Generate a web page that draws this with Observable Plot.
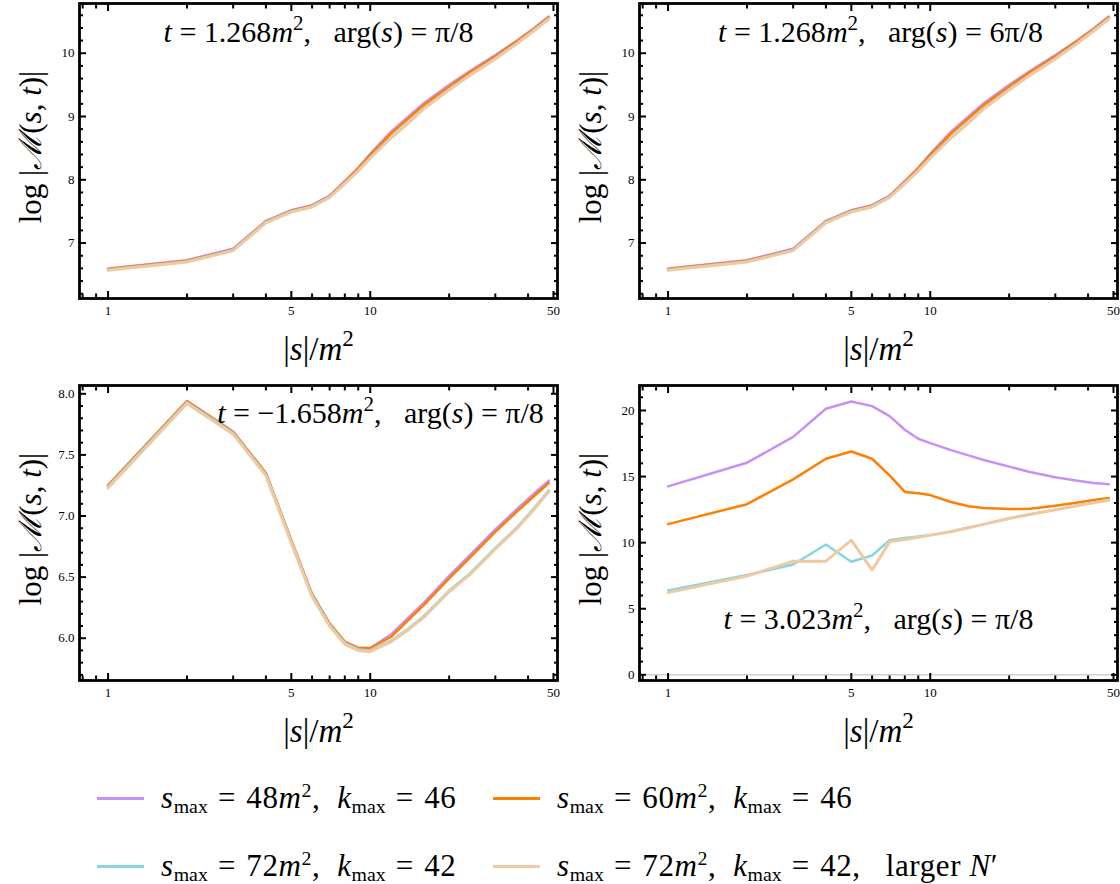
<!DOCTYPE html>
<html>
<head>
<meta charset="utf-8">
<script src="https://cdn.jsdelivr.net/npm/d3@7"></script>
<script src="https://cdn.jsdelivr.net/npm/@observablehq/plot@0.6"></script>
<style>
  body { margin: 0; background: #fff; }
  #chart { position: relative; width: 1120px; height: 884px; font-family: "Liberation Serif", "DejaVu Serif", serif; }
  .row { display: flex; }
  .row svg { display: block; overflow: visible; }
  .item { position: absolute; height: 40px; display: flex; align-items: center; font-size: 31px; letter-spacing: 0.6px; white-space: pre; color: #000; }
  .sw { width: 47px; height: 3px; margin-right: 17px; }
  .item sub { font-size: 0.64em; vertical-align: -0.25em; line-height: 0; letter-spacing: 0; }
  .item sup { font-size: 0.64em; vertical-align: 0.55em; line-height: 0; }
  .item .eq { margin: 0 0.06em; }
</style>
</head>
<body>
<div id="chart">
  <div class="row" id="row1"></div>
  <div class="row" id="row2"></div>
  <div id="legend"></div>
</div>
<script>
// ---------------- data ----------------
const sGrid = [1, 2, 3, 4, 5, 6, 7, 8, 9, 10, 12, 14, 16, 20, 24, 30, 36, 42, 48];

const seriesNames = ["smax48k46", "smax60k46", "smax72k42", "smax72k42N"];
const seriesColors = ["#C690F6", "#FF7F00", "#86D6E1", "#EFC9A2"];
const legendLabels = [
  "<i>s</i><sub>max</sub> <span class='eq'>=</span> 48<i>m</i><sup>2</sup>,  <i>k</i><sub>max</sub> <span class='eq'>=</span> 46",
  "<i>s</i><sub>max</sub> <span class='eq'>=</span> 60<i>m</i><sup>2</sup>,  <i>k</i><sub>max</sub> <span class='eq'>=</span> 46",
  "<i>s</i><sub>max</sub> <span class='eq'>=</span> 72<i>m</i><sup>2</sup>,  <i>k</i><sub>max</sub> <span class='eq'>=</span> 42",
  "<i>s</i><sub>max</sub> <span class='eq'>=</span> 72<i>m</i><sup>2</sup>,  <i>k</i><sub>max</sub> <span class='eq'>=</span> 42,   larger <i>N</i>′"
];

// panel 1: t = 1.268, arg(s) = pi/8
const p1Purple = [6.60, 6.73, 6.91, 7.35, 7.52, 7.60, 7.75, 7.98, 8.19, 8.41, 8.76, 9.00, 9.21, 9.50, 9.72, 9.97, 10.19, 10.39, 10.58];
const p1Orange = [6.59, 6.72, 6.90, 7.34, 7.51, 7.59, 7.74, 7.97, 8.18, 8.39, 8.73, 8.97, 9.18, 9.47, 9.70, 9.95, 10.18, 10.38, 10.57];
const p1Cyan   = [6.58, 6.71, 6.89, 7.33, 7.50, 7.58, 7.73, 7.95, 8.15, 8.35, 8.67, 8.91, 9.13, 9.43, 9.66, 9.92, 10.15, 10.36, 10.55];
const p1Beige  = [6.57, 6.70, 6.88, 7.32, 7.49, 7.57, 7.72, 7.94, 8.14, 8.34, 8.66, 8.90, 9.12, 9.42, 9.65, 9.91, 10.14, 10.35, 10.54];

// panel 2: t = 1.268, arg(s) = 6pi/8
const p2Purple = [6.60, 6.73, 6.91, 7.35, 7.52, 7.60, 7.75, 7.98, 8.19, 8.41, 8.76, 9.00, 9.21, 9.50, 9.72, 9.97, 10.19, 10.39, 10.58];
const p2Orange = [6.59, 6.72, 6.90, 7.34, 7.51, 7.59, 7.74, 7.97, 8.18, 8.39, 8.73, 8.97, 9.18, 9.47, 9.70, 9.95, 10.18, 10.38, 10.57];
const p2Cyan   = [6.58, 6.71, 6.89, 7.33, 7.50, 7.58, 7.73, 7.95, 8.15, 8.35, 8.67, 8.91, 9.13, 9.43, 9.66, 9.92, 10.15, 10.36, 10.55];
const p2Beige  = [6.57, 6.70, 6.88, 7.32, 7.49, 7.57, 7.72, 7.94, 8.14, 8.34, 8.66, 8.90, 9.12, 9.42, 9.65, 9.91, 10.14, 10.35, 10.54];

// panel 3: t = -1.658, arg(s) = pi/8
const p3Purple = [7.25, 7.94, 7.69, 7.35, 6.80, 6.36, 6.12, 5.97, 5.92, 5.92, 6.03, 6.17, 6.29, 6.51, 6.68, 6.89, 7.05, 7.18, 7.29];
const p3Orange = [7.25, 7.94, 7.69, 7.35, 6.80, 6.36, 6.12, 5.97, 5.92, 5.92, 6.01, 6.15, 6.27, 6.49, 6.66, 6.87, 7.03, 7.16, 7.27];
const p3Cyan   = [7.24, 7.93, 7.68, 7.34, 6.79, 6.35, 6.11, 5.96, 5.91, 5.90, 5.98, 6.08, 6.18, 6.39, 6.53, 6.74, 6.90, 7.06, 7.21];
const p3Beige  = [7.23, 7.92, 7.67, 7.33, 6.78, 6.34, 6.10, 5.95, 5.90, 5.89, 5.97, 6.07, 6.17, 6.38, 6.52, 6.73, 6.89, 7.05, 7.20];

// panel 4: t = 3.023, arg(s) = pi/8
const p4Purple = [14.26, 16.05, 18.00, 20.13, 20.68, 20.33, 19.57, 18.54, 17.86, 17.53, 17.00, 16.60, 16.25, 15.75, 15.35, 14.95, 14.70, 14.52, 14.42];
const p4Orange = [11.40, 12.91, 14.79, 16.35, 16.90, 16.35, 15.09, 13.84, 13.73, 13.60, 13.08, 12.75, 12.63, 12.55, 12.56, 12.80, 13.02, 13.22, 13.37];
const p4Cyan   = [6.38, 7.55, 8.35, 9.86, 8.55, 9.03, 10.19, 10.36, 10.47, 10.57, 10.85, 11.15, 11.40, 11.85, 12.15, 12.50, 12.80, 13.03, 13.24];
const p4Beige  = [6.22, 7.47, 8.60, 8.60, 10.19, 7.92, 10.06, 10.24, 10.40, 10.55, 10.83, 11.13, 11.38, 11.83, 12.13, 12.48, 12.78, 13.01, 13.20];

// annotations (markup: _x_ italic, ^x^ superscript)
const annot1 = "_t_ = 1.268_m_^2^,   arg(_s_) = π/8";
const annot2 = "_t_ = 1.268_m_^2^,   arg(_s_) = 6π/8";
const annot3 = "_t_ = −1.658_m_^2^,   arg(_s_) = π/8";
const annot4 = "_t_ = 3.023_m_^2^,   arg(_s_) = π/8";
const xLabel = "|_s_|/_m_^2^";
const yLabel = "log |_ℳ_(_s_, _t_)|";

// ticks
const xMajor = [1, 5, 10, 50];
const xMinor = [0.8, 0.9, 2, 3, 4, 6, 7, 8, 9, 20, 30, 40];
const yMajorTop = [7, 8, 9, 10];
const yMajorBL = [6.0, 6.5, 7.0, 7.5, 8.0];
const yMajorBR = [0, 5, 10, 15, 20];

// ---------------- helpers ----------------
const plain = (m) => m.replace(/[_^]/g, "");
function parseMarkup(m) {
  const parts = [];
  const re = /_([^_]+)_|\^([^^]+)\^|([^_^]+)/g;
  let r;
  while ((r = re.exec(m))) {
    if (r[1]) parts.push([r[1], "i"]);
    else if (r[2]) parts.push([r[2], "^"]);
    else parts.push([r[3], ""]);
  }
  return parts;
}
function richify(svg, markups) {
  const map = new Map(markups.map(m => [plain(m), m]));
  svg.querySelectorAll("text").forEach(el => {
    const key = el.textContent;
    if (!map.has(key)) return;
    const holder = el.closest("[font-size]");
    const fs = parseFloat(holder ? holder.getAttribute("font-size") : 13) || 13;
    el.textContent = "";
    el.style.whiteSpace = "pre";
    let shift = 0;
    for (const [txt, kind] of parseMarkup(map.get(key))) {
      const t = document.createElementNS("http://www.w3.org/2000/svg", "tspan");
      t.textContent = txt;
      let target = 0;
      if (kind === "i") t.setAttribute("font-style", "italic");
      if (kind === "^") { t.setAttribute("font-size", (fs * 0.7).toFixed(1)); target = -fs * 0.42; }
      if (target !== shift) { t.setAttribute("dy", (target - shift).toFixed(1)); shift = target; }
      el.appendChild(t);
    }
  });
}

function table(values) {
  return sGrid.map((s, i) => ({s, v: values[i]}));
}

function panel({series, yDomain, yMajor, yMinor, yFormat, annot, annotAnchor, annotDx, annotDy, marginTop, height, zeroLine}) {
  const lines = series.map((vals, i) =>
    Plot.line(table(vals), {x: "s", y: "v", stroke: seriesColors[i], strokeWidth: i === 3 ? 3 : 2.5, curve: "linear"})
  );
  const fontStyle = {fontFamily: "Liberation Serif, DejaVu Serif, serif"};
  const marks = [
    zeroLine ? Plot.ruleY([0], {stroke: "#d0d0d0", strokeWidth: 1.5}) : null,
    ...lines,
    Plot.frame({stroke: "#000", strokeWidth: 2.8}),
    // inward ticks on all four sides
    Plot.axisX({anchor: "bottom", ticks: xMajor, tickSize: -7, text: null, label: null, strokeWidth: 2}),
    Plot.axisX({anchor: "bottom", ticks: xMinor, tickSize: -4.5, text: null, label: null, strokeWidth: 2}),
    Plot.axisX({anchor: "top", ticks: xMajor, tickSize: -7, text: null, label: null, strokeWidth: 2}),
    Plot.axisX({anchor: "top", ticks: xMinor, tickSize: -4.5, text: null, label: null, strokeWidth: 2}),
    Plot.axisY({anchor: "left", ticks: yMajor, tickSize: -7, text: null, label: null, strokeWidth: 2}),
    Plot.axisY({anchor: "left", ticks: yMinor, tickSize: -4, text: null, label: null, strokeWidth: 2}),
    Plot.axisY({anchor: "right", ticks: yMajor, tickSize: -7, text: null, label: null, strokeWidth: 2}),
    Plot.axisY({anchor: "right", ticks: yMinor, tickSize: -4, text: null, label: null, strokeWidth: 2}),
    // tick labels
    Plot.axisX({anchor: "bottom", ticks: xMajor, tickSize: 0, tickPadding: 7, tickFormat: d => String(d), label: null, fontSize: 13, ...fontStyle}),
    Plot.axisY({anchor: "left", ticks: yMajor, tickSize: 0, tickPadding: 5, tickFormat: yFormat, label: null, fontSize: 13, ...fontStyle}),
    // annotation and axis labels
    Plot.text([plain(annot)], {text: d => d, frameAnchor: annotAnchor, lineAnchor: "middle", textAnchor: "middle", dx: annotDx, dy: annotDy, fontSize: 30, fill: "#000", style: "letter-spacing:0.4px", ...fontStyle}),
    Plot.text([plain(xLabel)], {text: d => d, frameAnchor: "bottom", lineAnchor: "middle", textAnchor: "middle", dy: 51, fontSize: 33, fill: "#000", ...fontStyle}),
    Plot.text([plain(yLabel)], {text: d => d, frameAnchor: "left", lineAnchor: "middle", textAnchor: "middle", rotate: -90, dx: -48, dy: -4, fontSize: 31, fill: "#000", ...fontStyle})
  ].filter(Boolean);
  const svg = Plot.plot({
    width: 560,
    height,
    marginLeft: 79,
    marginRight: 3,
    marginTop,
    marginBottom: height - marginTop - 295,
    x: {type: "log", domain: [0.778, 51.8]},
    y: {domain: yDomain},
    style: {fontFamily: "Liberation Serif, DejaVu Serif, serif", fontSize: "13px", color: "#000", background: "transparent", overflow: "visible"},
    marks
  });
  richify(svg, [annot, xLabel, yLabel]);
  return svg;
}

const rng = (a, b, step, majors) => d3.range(Math.round(a / step), Math.round(b / step) + 1)
  .map(k => +(k * step).toFixed(3)).filter(v => !majors.includes(v));

const row1 = document.getElementById("row1");
const row2 = document.getElementById("row2");

row1.appendChild(panel({
  series: [p1Purple, p1Orange, p1Cyan, p1Beige],
  yDomain: [6.124, 10.786], yMajor: yMajorTop, yMinor: rng(6.2, 10.6, 0.2, yMajorTop), yFormat: d => String(d),
  annot: annot1, annotAnchor: "top", annotDx: 0, annotDy: 29, marginTop: 3, height: 370
}));
row1.appendChild(panel({
  series: [p2Purple, p2Orange, p2Cyan, p2Beige],
  yDomain: [6.124, 10.786], yMajor: yMajorTop, yMinor: rng(6.2, 10.6, 0.2, yMajorTop), yFormat: d => String(d),
  annot: annot2, annotAnchor: "top", annotDx: 2, annotDy: 29, marginTop: 3, height: 370
}));
row2.appendChild(panel({
  series: [p3Purple, p3Orange, p3Cyan, p3Beige],
  yDomain: [5.654, 8.068], yMajor: yMajorBL, yMinor: rng(5.7, 8.0, 0.1, yMajorBL), yFormat: d3.format(".1f"),
  annot: annot3, annotAnchor: "top", annotDx: 62, annotDy: 28, marginTop: 15, height: 390
}));
row2.appendChild(panel({
  series: [p4Purple, p4Orange, p4Cyan, p4Beige],
  yDomain: [-0.43, 21.89], yMajor: yMajorBR, yMinor: rng(0, 21, 1, yMajorBR), yFormat: d => String(d),
  annot: annot4, annotAnchor: "bottom", annotDx: 0, annotDy: -61, marginTop: 15, height: 390, zeroLine: true
}));

// legend
const legend = document.getElementById("legend");
const legendPos = [[97, 778], [493, 778], [97, 846], [493, 846]];
seriesNames.forEach((name, i) => {
  const item = document.createElement("div");
  item.className = "item";
  item.style.left = legendPos[i][0] + "px";
  item.style.top = legendPos[i][1] + "px";
  item.innerHTML = `<span class="sw" style="background:${seriesColors[i]}"></span><span>${legendLabels[i]}</span>`;
  legend.appendChild(item);
});
</script>
</body>
</html>
